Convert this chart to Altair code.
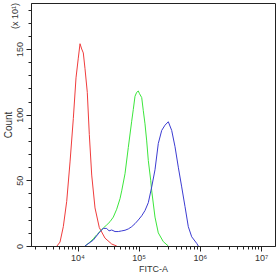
import altair as alt
import pandas as pd

# Red histogram (FITC-A value, count x10)
red_fitc = [4620, 5180, 5860, 6660, 7550, 8540, 9450, 10300, 10990, 11710, 12440,
            13260, 14450, 15590, 17060, 19320, 22710, 28130, 36220, 43700]
red_count = [0, 3, 14.7, 34, 64, 97, 128, 143, 154, 150, 147,
             135, 117, 85, 54, 29, 14, 6, 1.5, 0]

green_fitc = [13260, 16000, 18120, 20600, 23320, 26400, 29990, 33970, 38460, 43700,
              49480, 52770, 59720, 67610, 76840, 81630, 87000, 92700, 98500, 103000,
              111950, 118900, 126700, 135100, 143600, 157100, 163100, 184600, 208900,
              252300, 304600]
green_count = [0, 3, 5.5, 8.5, 11, 13.7, 16, 18.5, 22, 28,
               36, 42, 55, 75, 95, 104, 114, 117, 118, 116,
               113, 103, 93, 80, 65, 50, 42, 22, 10,
               3.3, 0]

blue_fitc = [13260, 18120, 23320, 26400, 29990, 32710, 36220, 41000, 46420, 52770,
             59720, 67610, 76840, 87000, 98500, 111950, 126700, 143600, 163100, 184600,
             208900, 237600, 269000, 304600, 346000, 391800, 443600, 504200, 570800,
             646300, 734600, 886600, 941900]
blue_count = [0, 4.5, 11, 13.4, 13.4, 11.5, 12.2, 11, 11, 11.5,
              12, 13, 14.7, 17, 19.8, 23, 27, 33, 45, 58,
              78, 88, 92, 94.6, 88, 75.6, 60, 45, 30,
              14.7, 7, 2, 0]

series_names = ["red", "green", "blue"]
series_colors = ["#f03c3c", "#3ce63c", "#3c3cd2"]

x_major = [10000, 100000, 1000000, 10000000]
x_ticks = [m * 10 ** k for k in range(3, 7) for m in range(2, 10)] + x_major
x_ticks = sorted(set(x_ticks))
y_ticks = list(range(0, 190, 10))

rows = []
for name, xs, ys in [("red", red_fitc, red_count),
                     ("green", green_fitc, green_count),
                     ("blue", blue_fitc, blue_count)]:
    for i, (a, b) in enumerate(zip(xs, ys)):
        rows.append({"series": name, "fitc": a, "count": b, "i": i})
df = pd.DataFrame(rows)

label_font = "Liberation Sans"
txt = "#333333"

chart = alt.Chart(df).mark_line(strokeWidth=1, clip=True).encode(
    x=alt.X("fitc:Q",
            scale=alt.Scale(type="log", domain=[1738, 16870000], nice=False),
            axis=alt.Axis(
                values=x_ticks,
                labelExpr="datum.value == 10000 ? '10⁴' : datum.value == 100000 ? '10⁵' : datum.value == 1000000 ? '10⁶' : datum.value == 10000000 ? '10⁷' : ''",
                tickSize={"condition": {"test": "datum.value == 10000 || datum.value == 100000 || datum.value == 1000000 || datum.value == 10000000", "value": 5}, "value": 3},
                title="FITC-A", grid=False, labelOverlap=False,
                labelFontSize=9, titleFontSize=9, titleFontWeight="normal",
                labelFont=label_font, titleFont=label_font,
                labelColor=txt, titleColor=txt, tickColor="#222", domainColor="#222",
                labelPadding=2, titlePadding=2)),
    y=alt.Y("count:Q",
            scale=alt.Scale(domain=[0, 185], nice=False),
            axis=alt.Axis(
                values=y_ticks,
                labelExpr="datum.value % 50 == 0 ? datum.label : ''",
                tickSize={"condition": {"test": "datum.value % 50 == 0", "value": 5}, "value": 3},
                title="Count", grid=False, labelOverlap=False, labelAngle=270,
                labelAlign="center", labelBaseline="bottom",
                labelFontSize=9, titleFontSize=10, titleFontWeight="normal",
                labelFont=label_font, titleFont=label_font,
                labelColor=txt, titleColor=txt, tickColor="#222", domainColor="#222",
                labelPadding=2, titlePadding=2)),
    color=alt.Color("series:N", scale=alt.Scale(domain=series_names, range=series_colors), legend=None),
    order="i:Q",
).properties(
    width=244, height=243,
    title=alt.TitleParams("(x 10¹)", orient="left", anchor="end", fontSize=9,
                          font=label_font, fontWeight="normal", color=txt, offset=-17),
    autosize=alt.AutoSizeParams(type="none"),
    padding={"left": 31, "top": 3, "right": 4, "bottom": 29},
).configure_view(stroke="#222", strokeWidth=1)

chart.save("out.html", embed_options={"renderer": "svg", "actions": False})
